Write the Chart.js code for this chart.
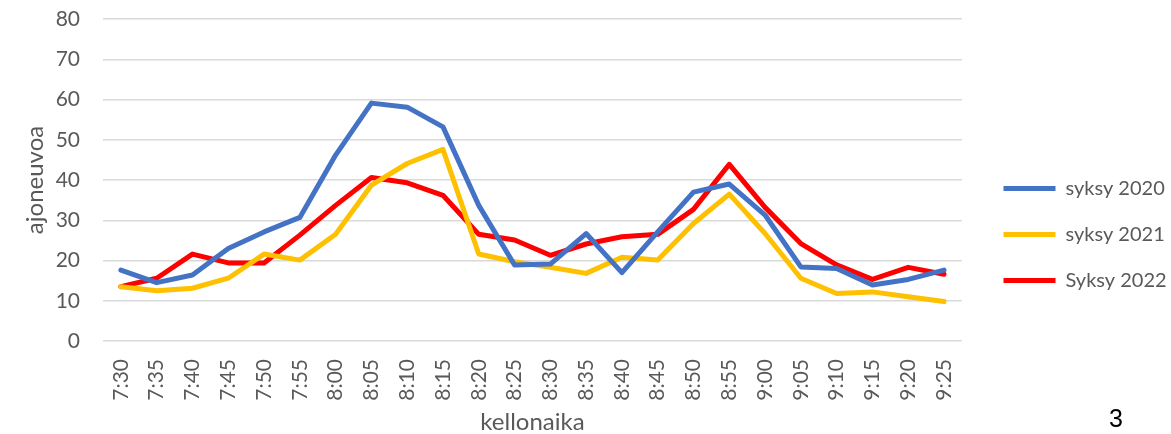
<!DOCTYPE html>
<html>
<head>
<meta charset="utf-8">
<script src="https://cdn.jsdelivr.net/npm/chart.js@4/dist/chart.umd.min.js"></script>
<style>
  html, body { margin: 0; padding: 0; background: #fff; }
  #kehys { position: relative; width: 1171px; height: 434px; }
  #sivu { position: absolute; left: 1109px; top: 404px; font: 25px "Liberation Sans", Arial, sans-serif; color: #000; }
</style>
</head>
<body>
<div id="kehys">
  <canvas id="myChart" width="1171" height="434"></canvas>
  <div id="sivu">3</div>
</div>
<script>
// kellonajat (x-akseli)
const kellonajat = ["7:30", "7:35", "7:40", "7:45", "7:50", "7:55", "8:00", "8:05", "8:10", "8:15", "8:20", "8:25",
    "8:30", "8:35", "8:40", "8:45", "8:50", "8:55", "9:00", "9:05", "9:10", "9:15", "9:20", "9:25"]

// ajoneuvomaarat syksyittain
const syksy2020 = [17.6, 14.5, 16.4, 23, 27.1, 30.7, 46.2, 59.1, 58.1, 53.2, 33.7, 18.9,
    19.1, 26.7, 17, 27.1, 37, 39, 31.3, 18.4, 18, 13.9, 15.3, 17.6]
const syksy2021 = [13.5, 12.5, 13.1, 15.6, 21.6, 20.1, 26.5, 38.7, 44.1, 47.6, 21.6, 19.7,
    18.3, 16.8, 20.8, 20.1, 29.2, 36.5, 26.7, 15.6, 11.8, 12.2, 11, 9.8]
const syksy2022 = [13.5, 15.6, 21.6, 19.4, 19.4, 26.3, 33.7, 40.6, 39.3, 36.2, 26.5, 25.1,
    21.3, 24.1, 25.9, 26.5, 32.7, 43.9, 33.2, 24.2, 18.9, 15.3, 18.3, 16.6]

const sarjat = ["syksy 2020", "syksy 2021", "Syksy 2022"]
const varit = ["#4472C4", "#FFC000", "#FF0000"]

const harmaa = "#595959"
const fontti = "Lato, 'Open Sans', sans-serif"

// selite hieman alemmas ja oikeaan kohtaan
const seliteSiirto = {
    id: "seliteSiirto",
    afterLayout(chart) {
        const lg = chart.legend
        if (!lg) return
        lg.top += 8
        lg.bottom += 8
        const w = lg.width
        lg.left = 977.5
        lg.right = lg.left + w
    }
}

function sarja(nimi, arvot, vari) {
    return {
        label: nimi,
        data: arvot,
        borderColor: vari,
        backgroundColor: vari,
        borderWidth: 5,
        borderCapStyle: "round",
        borderJoinStyle: "round",
        pointRadius: 0,
        tension: 0,
        fill: false
    }
}

const grafica = document.getElementById("myChart").getContext("2d")

const myChart = new Chart(grafica, {
    type: "line",
    data: {
        labels: kellonajat,
        datasets: [
            sarja(sarjat[0], syksy2020, varit[0]),
            sarja(sarjat[1], syksy2021, varit[1]),
            sarja(sarjat[2], syksy2022, varit[2])
        ]
    },
    plugins: [seliteSiirto],
    options: {
        responsive: false,
        animation: false,
        layout: {
            padding: { left: 10, top: 19, right: 10, bottom: 0 }
        },
        plugins: {
            legend: {
                position: "right",
                labels: {
                    usePointStyle: true,
                    pointStyle: "line",
                    pointStyleWidth: 52,
                    padding: 26,
                    color: harmaa,
                    font: { family: fontti, size: 20 }
                }
            },
            tooltip: { enabled: false }
        },
        scales: {
            x: {
                offset: true,
                grid: { display: false },
                border: { display: false },
                ticks: {
                    color: harmaa,
                    font: { family: fontti, size: 21 },
                    minRotation: 90,
                    maxRotation: 90,
                    autoSkip: false,
                    padding: 10
                },
                title: {
                    display: true,
                    text: "kellonaika",
                    color: harmaa,
                    font: { family: fontti, size: 24, lineHeight: 1 },
                    padding: { top: 4, bottom: 0 }
                },
                afterFit(scale) {
                    scale.height = 93
                    scale.paddingLeft = 0
                    scale.paddingRight = 0
                }
            },
            y: {
                min: 0,
                max: 80,
                grid: { color: "#d9d9d9", lineWidth: 1.5, drawTicks: false },
                border: { display: false },
                ticks: {
                    stepSize: 10,
                    color: harmaa,
                    font: { family: fontti, size: 21 },
                    padding: 23
                },
                title: {
                    display: true,
                    text: "ajoneuvoa",
                    color: harmaa,
                    font: { family: fontti, size: 24, lineHeight: 1.2 },
                    padding: { top: 11, bottom: 0 }
                },
                afterFit(scale) {
                    scale.width = 93
                    scale.paddingTop = 0
                    scale.paddingBottom = 0
                }
            }
        }
    }
})
</script>
</body>
</html>
